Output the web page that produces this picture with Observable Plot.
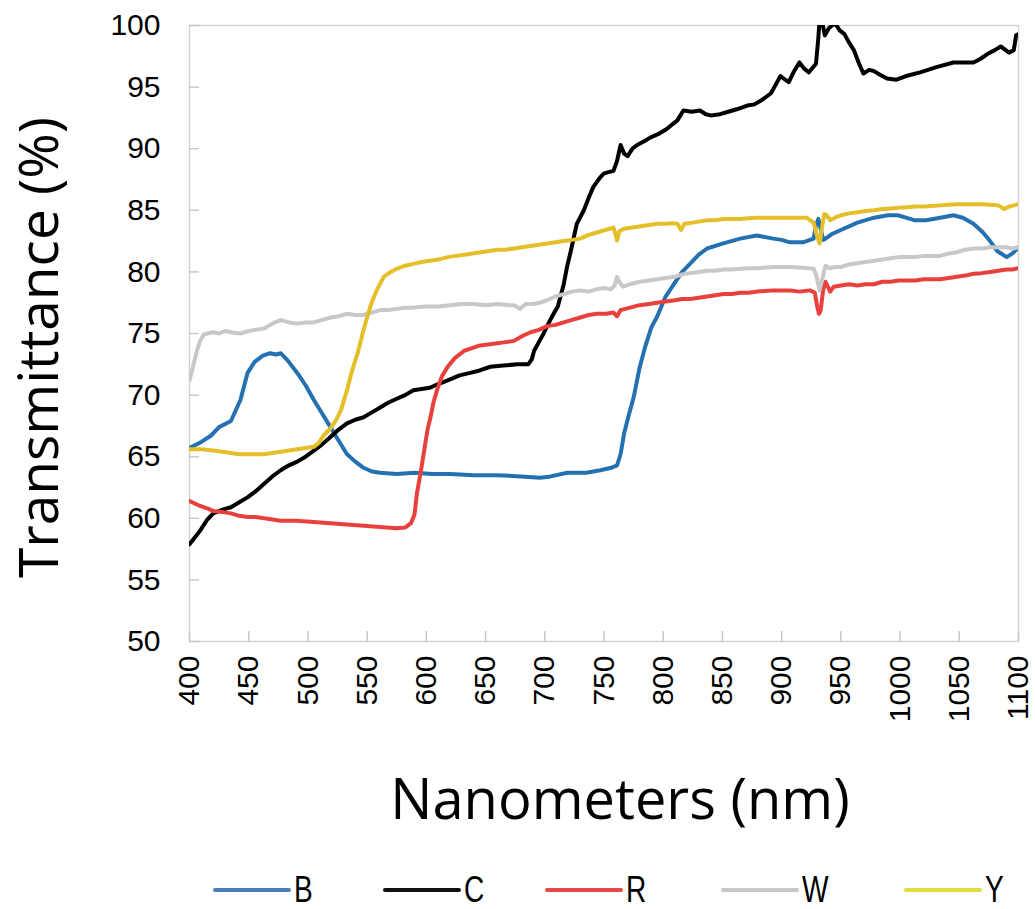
<!DOCTYPE html>
<html>
<head>
<meta charset="utf-8">
<script src="https://cdn.jsdelivr.net/npm/d3@7"></script>
<script src="https://cdn.jsdelivr.net/npm/@observablehq/plot@0.6"></script>
<style>
  html, body { margin: 0; padding: 0; background: #fff; }
  #chart { width: 1035px; }
  #legend { position: relative; width: 1035px; height: 59px; }
  .item { position: absolute; top: 22px; display: flex; align-items: center; height: 36px; }
  .sw { width: 78px; height: 4px; border-radius: 2px; margin-right: 3px; }
  .lab { display: inline-block; font-family: "Liberation Sans", Arial, sans-serif; font-size: 36px; color: #000; line-height: 36px; transform: scaleX(0.78); transform-origin: left center; }
</style>
</head>
<body>
<div id="chart"></div>
<div id="legend"></div>
<script>
// ---- data (wavelength nm, transmittance %) ----
const seriesNames = ["B", "C", "R", "W", "Y"];
const seriesColors = ["#2471b2", "#000000", "#e8413d", "#c8c8c8", "#e5bf2a"];
const legendColors = ["#4a7ebb", "#111111", "#e34848", "#c8c8c8", "#e2dc3c"];
const xTicks = [400, 450, 500, 550, 600, 650, 700, 750, 800, 850, 900, 950, 1000, 1050, 1100];
const yTicks = [50, 55, 60, 65, 70, 75, 80, 85, 90, 95, 100];

const B = [[400,65.7],[410,66.2],[418,66.7],[425,67.4],[435,67.9],[443,69.6],[449,71.8],[455,72.7],[462,73.2],[468,73.4],[473,73.3],[477,73.4],[483,72.8],[491,71.8],[498,70.8],[505,69.6],[512,68.5],[519,67.4],[526,66.3],[533,65.2],[540,64.6],[547,64.1],[554,63.8],[561,63.7],[575,63.6],[590,63.7],[605,63.6],[620,63.6],[640,63.5],[660,63.5],[680,63.4],[696,63.3],[705,63.4],[719,63.7],[735,63.7],[747,63.9],[756,64.1],[761,64.3],[764,65.2],[767,66.9],[771,68.4],[775,69.8],[780,72.2],[785,74.0],[790,75.5],[795,76.4],[802,78.0],[809,79.0],[816,80.0],[823,80.7],[830,81.4],[837,81.9],[850,82.3],[865,82.7],[879,82.95],[893,82.7],[900,82.6],[907,82.4],[918,82.4],[927,82.7],[929,83.8],[931,84.3],[933,83.5],[935,82.6],[937,82.7],[943,83.1],[950,83.4],[964,84.0],[978,84.4],[990,84.6],[998,84.6],[1005,84.4],[1012,84.2],[1022,84.2],[1034,84.4],[1045,84.6],[1053,84.4],[1062,83.9],[1070,83.2],[1076,82.5],[1082,81.7],[1090,81.2],[1095,81.5],[1100,82.0]];

const C = [[400,57.9],[405,58.5],[409,59.0],[415,59.9],[420,60.4],[428,60.7],[435,60.9],[442,61.3],[449,61.7],[456,62.2],[463,62.8],[470,63.4],[477,63.9],[484,64.3],[491,64.6],[498,65.0],[505,65.5],[512,66.0],[519,66.6],[526,67.2],[533,67.7],[540,68.0],[547,68.2],[554,68.6],[561,69.0],[568,69.4],[575,69.7],[582,70.0],[589,70.4],[596,70.5],[603,70.6],[610,70.9],[618,71.2],[628,71.6],[637,71.8],[645,72.0],[654,72.3],[665,72.4],[677,72.5],[686,72.5],[689,72.9],[691,73.6],[695,74.3],[699,75.0],[703,75.8],[708,76.7],[711,77.2],[716,79.0],[719,80.5],[722,81.7],[727,83.9],[733,85.0],[737,86.0],[741,86.9],[747,87.7],[750,88.0],[758,88.2],[761,89.0],[764,90.3],[767,89.6],[770,89.4],[774,90.0],[778,90.3],[784,90.6],[789,90.9],[796,91.2],[803,91.6],[808,92.0],[812,92.3],[817,93.1],[824,93.0],[831,93.1],[836,92.8],[840,92.7],[848,92.8],[855,93.0],[862,93.2],[871,93.5],[877,93.6],[884,94.0],[891,94.5],[895,95.2],[899,95.9],[903,95.6],[906,95.4],[910,96.2],[915,97.0],[919,96.5],[923,96.2],[929,96.9],[931,99.0],[932,100.4],[934,100.4],[936.5,99.2],[940,99.8],[945,100.2],[949,99.6],[953,99.3],[957,98.6],[961,98.0],[965,97.0],[969,96.1],[974,96.4],[978,96.3],[983,96.0],[989,95.7],[997,95.6],[1005,95.9],[1017,96.2],[1030,96.6],[1045,97.0],[1055,97.0],[1062,97.0],[1068,97.3],[1074,97.7],[1080,98.0],[1085,98.3],[1092,97.8],[1096,98.0],[1098,99.2],[1100,99.3]];

const R = [[400,61.4],[409,61.0],[415,60.8],[420,60.6],[428,60.5],[435,60.4],[442,60.2],[449,60.1],[456,60.1],[463,60.0],[470,59.9],[477,59.8],[490,59.8],[505,59.7],[519,59.6],[533,59.5],[547,59.4],[561,59.3],[575,59.2],[582,59.25],[587,59.6],[590,60.3],[592,62.0],[595,63.6],[597,64.8],[599,66.0],[601,67.2],[603.5,68.2],[606,69.4],[609,70.4],[613,71.5],[618,72.3],[624,73.0],[632,73.6],[638,73.8],[644,74.0],[652,74.1],[660,74.2],[667,74.3],[674,74.4],[681,74.8],[688,75.1],[695,75.3],[702,75.6],[709,75.7],[716,75.9],[723,76.1],[730,76.3],[737,76.5],[744,76.6],[752,76.6],[758,76.7],[761,76.4],[764,76.9],[772,77.1],[780,77.3],[788,77.4],[795,77.5],[802,77.6],[810,77.7],[816,77.8],[823,77.8],[830,77.9],[837,78.0],[844,78.1],[851,78.2],[858,78.2],[865,78.3],[872,78.3],[879,78.4],[886,78.45],[893,78.5],[900,78.5],[907,78.5],[915,78.4],[924,78.5],[928,78.3],[930,77.2],[931.5,76.6],[933,76.9],[935,78.5],[937,79.2],[939,78.8],[941,78.4],[944,78.8],[950,78.9],[957,79.0],[964,78.9],[971,79.0],[978,79.0],[985,79.2],[992,79.2],[999,79.3],[1006,79.3],[1013,79.3],[1020,79.4],[1027,79.4],[1034,79.4],[1041,79.5],[1048,79.6],[1055,79.7],[1062,79.85],[1069,79.9],[1076,80.0],[1083,80.1],[1090,80.2],[1095,80.2],[1100,80.3]];

const W = [[400,71.2],[403,72.3],[406,73.5],[409,74.4],[412,74.9],[415,75.0],[420,75.1],[425,75.0],[430,75.2],[435,75.1],[443,75.0],[450,75.2],[456,75.3],[463,75.4],[470,75.8],[477,76.1],[484,75.9],[491,75.8],[498,75.9],[505,75.9],[512,76.1],[519,76.3],[526,76.4],[533,76.6],[540,76.5],[547,76.5],[554,76.7],[561,76.9],[568,76.9],[575,77.0],[582,77.1],[589,77.1],[600,77.2],[610,77.2],[620,77.3],[630,77.4],[640,77.4],[650,77.3],[660,77.4],[670,77.3],[674,77.3],[679,77.0],[684,77.4],[690,77.4],[696,77.5],[702,77.7],[709,78.0],[716,78.2],[723,78.4],[730,78.5],[737,78.4],[744,78.6],[750,78.7],[756,78.6],[759,78.9],[761,79.6],[763,79.2],[766,78.8],[772,79.0],[780,79.2],[788,79.3],[795,79.4],[802,79.5],[810,79.6],[816,79.8],[823,79.9],[830,80.0],[837,80.1],[844,80.1],[851,80.2],[858,80.2],[865,80.25],[872,80.3],[879,80.3],[886,80.35],[893,80.4],[900,80.4],[907,80.4],[915,80.35],[922,80.3],[927,80.25],[929,79.8],[932,78.5],[934,79.3],[937,80.5],[940,80.3],[945,80.4],[950,80.4],[957,80.6],[964,80.7],[971,80.8],[978,80.9],[985,81.0],[992,81.1],[999,81.2],[1006,81.2],[1013,81.2],[1020,81.3],[1027,81.3],[1034,81.3],[1041,81.5],[1048,81.6],[1055,81.8],[1062,81.9],[1069,81.9],[1076,82.0],[1083,82.0],[1090,82.0],[1095,81.9],[1100,82.0]];

const Y = [[400,65.6],[410,65.6],[420,65.5],[428,65.4],[435,65.3],[442,65.2],[449,65.2],[456,65.2],[463,65.2],[470,65.3],[477,65.4],[484,65.5],[491,65.6],[498,65.7],[505,65.8],[509,66.1],[513,66.7],[519,67.3],[524,68.0],[528,68.8],[533,70.4],[537,71.9],[542,73.4],[547,75.3],[553,77.3],[558,78.5],[564,79.6],[570,80.0],[575,80.25],[582,80.5],[589,80.65],[596,80.8],[603,80.9],[610,81.0],[618,81.2],[625,81.3],[632,81.4],[639,81.5],[646,81.6],[653,81.7],[660,81.8],[667,81.8],[674,81.9],[681,82.0],[688,82.1],[695,82.2],[702,82.3],[709,82.4],[716,82.5],[723,82.6],[730,82.7],[737,83.0],[744,83.2],[751,83.4],[758,83.6],[760,83.0],[761,82.55],[763,83.3],[767,83.5],[774,83.6],[781,83.7],[788,83.8],[795,83.9],[802,83.9],[809,83.95],[812,83.9],[815,83.4],[818,83.9],[825,84.0],[831,84.1],[837,84.2],[844,84.2],[851,84.3],[858,84.3],[865,84.3],[872,84.35],[879,84.4],[886,84.4],[893,84.4],[900,84.4],[907,84.4],[914,84.4],[921,84.4],[927,84.0],[930,82.9],[932,82.3],[934,83.5],[936,84.7],[938,84.6],[941,84.2],[945,84.4],[950,84.6],[957,84.75],[964,84.85],[971,84.95],[978,85.0],[985,85.1],[992,85.15],[999,85.2],[1006,85.25],[1013,85.3],[1020,85.3],[1027,85.35],[1034,85.4],[1041,85.45],[1048,85.5],[1055,85.5],[1062,85.5],[1069,85.5],[1076,85.45],[1083,85.4],[1088,85.1],[1092,85.3],[1096,85.4],[1100,85.5]];

const seriesData = [B, C, R, W, Y];
const rows = seriesData.flatMap((arr, i) => arr.map(([nm, t]) => ({series: seriesNames[i], nm, t})));

const W_ = 1035, H_ = 850;
const mL = 189, mR = 17, mT = 25, mB = 209;
const frameW = W_ - mL - mR, frameH = H_ - mT - mB;

const chart = Plot.plot({
  width: W_, height: H_,
  marginLeft: mL, marginRight: mR, marginTop: mT, marginBottom: mB,
  style: {fontFamily: "'Liberation Sans', Arial, sans-serif", color: "#000", background: "#fff"},
  x: {domain: [400, 1100]},
  y: {domain: [50, 100]},
  color: {domain: seriesNames, range: seriesColors},
  marks: [
    Plot.frame({stroke: "#d3d3d3", strokeWidth: 1.5}),
    Plot.tickY(yTicks, {y: d => d, insetRight: frameW - 10, stroke: "#c8c8c8", strokeWidth: 1.5}),
    Plot.tickX(xTicks, {x: d => d, insetTop: frameH - 10, stroke: "#c8c8c8", strokeWidth: 1.5}),
    Plot.axisY({ticks: yTicks, tickSize: 0, tickPadding: 29, fontSize: 30, label: null}),
    Plot.axisX({ticks: xTicks, tickSize: 0, tickPadding: 14, tickRotate: -90, fontSize: 30, label: null, tickFormat: d => String(d)}),
    Plot.line(rows, {x: "nm", y: "t", z: "series", stroke: "series", strokeWidth: 4, clip: true, curve: "linear"}),
    Plot.text(["Transmittance (%)"], {text: d => d, frameAnchor: "left", rotate: -90, dx: -149, dy: 14, fontSize: 55, fontFamily: "'Open Sans', sans-serif", textAnchor: "middle", lineAnchor: "middle", fill: "#000"}),
    Plot.text(["Nanometers (nm)"], {text: d => d, frameAnchor: "bottom", dx: 16, dy: 177, fontSize: 56, fontFamily: "'Open Sans', sans-serif", textAnchor: "middle", lineAnchor: "bottom", fill: "#000"})
  ]
});
document.getElementById("chart").appendChild(chart);

// legend
const legendLefts = [213, 383, 545, 721, 904];
const legend = document.getElementById("legend");
seriesNames.forEach((name, i) => {
  const item = document.createElement("div");
  item.className = "item";
  item.style.left = legendLefts[i] + "px";
  const sw = document.createElement("div");
  sw.className = "sw";
  sw.style.background = legendColors[i];
  const lab = document.createElement("span");
  lab.className = "lab";
  lab.textContent = name;
  item.appendChild(sw);
  item.appendChild(lab);
  legend.appendChild(item);
});
</script>
</body>
</html>
